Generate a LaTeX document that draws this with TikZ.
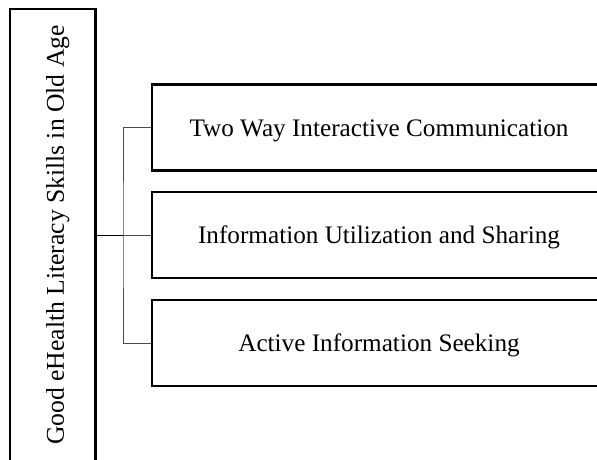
\documentclass[tikz,border=0pt]{standalone}
\usepackage{fontspec}
\setmainfont{Liberation Serif}
\usetikzlibrary{calc}
\tikzset{
  skillbox/.style={draw, line width=2.4pt, minimum width=454pt, minimum height=86pt, inner sep=0pt, text height=17pt, text depth=0pt, font=\fontsize{25.2}{30}\selectfont},
  mainbox/.style={draw, line width=2.4pt, minimum width=452pt, minimum height=85.7pt, inner sep=0pt, rotate=90, text height=22pt, text depth=0pt, font=\fontsize{25.6}{30}\selectfont},
  link/.style={line width=0.9pt, black!70}
}

\begin{document}
\begin{tikzpicture}[x=1pt, y=-1pt]
			%%%%% START %%%%%
			\useasboundingbox (0, 0) rectangle (597, 459);
			\clip (0, 0) rectangle (597, 459);
			
			\node[mainbox] (main) at (52.8, 235) {Good eHealth Literacy Skills in Old Age};
			
			\node[skillbox] (two) at (379, 127.5) {Two Way Interactive Communication};
			\node[skillbox] (info) at (379, 235) {Information Utilization and Sharing};
			\node[skillbox] (seek) at (379, 343) {Active Information Seeking};
			
			\coordinate (fork) at (123, 235);
			\draw[line width=0.9pt] (main.south) -- (fork);
			\draw[link] (fork) -- (info.west);
			\draw[link] (two.west) -| (fork) |- (seek.west);
			%%%%% END %%%%%
		\end{tikzpicture}
\end{document}
